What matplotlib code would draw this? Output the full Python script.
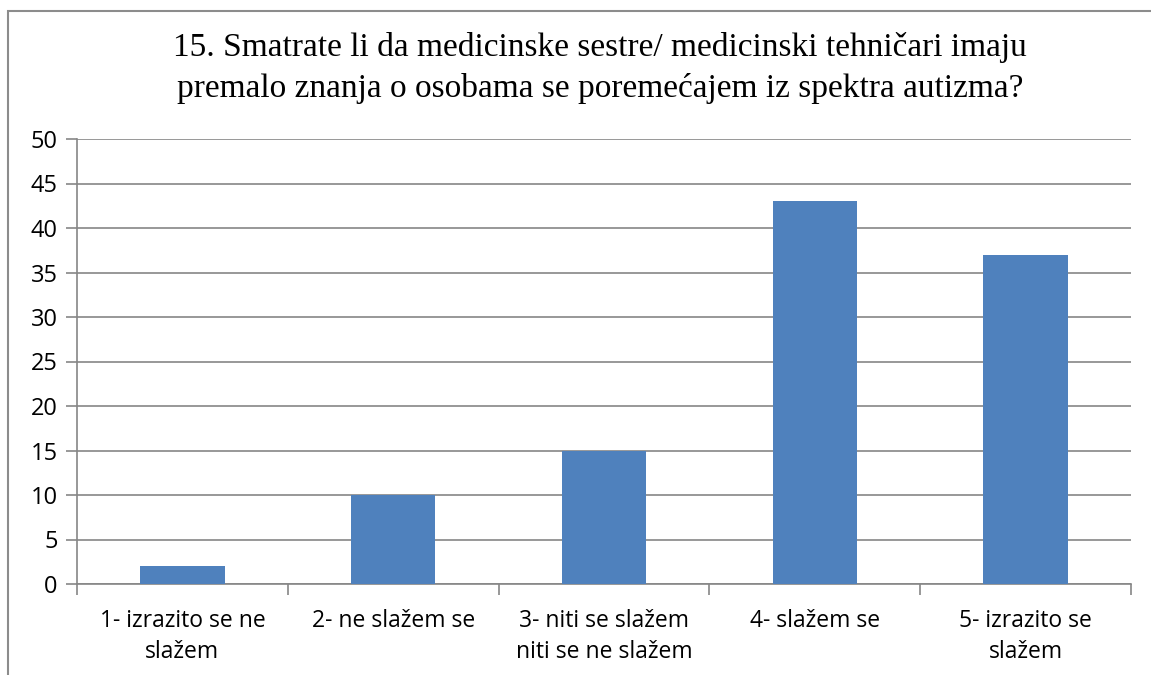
import matplotlib.pyplot as plt
from matplotlib.patches import Rectangle

categories = ['1- izrazito se ne\nslažem', '2- ne slažem se',
              '3- niti se slažem\nniti se ne slažem', '4- slažem se',
              '5- izrazito se\nslažem']
values = [2, 10, 15, 43, 37]
yticks = [0, 5, 10, 15, 20, 25, 30, 35, 40, 45, 50]
title = ('15. Smatrate li da medicinske sestre/ medicinski tehničari imaju\n'
         'premalo znanja o osobama se poremećajem iz spektra autizma?')

W, H = 1151, 675
fig = plt.figure(figsize=(W / 100, H / 100), dpi=100)
fig.patch.set_facecolor('white')

# outer chart frame (cut off on the right and bottom like the screenshot)
fig.patches.append(Rectangle((8 / W, -0.1), 1.2, 1 - 11 / H + 0.1,
                             transform=fig.transFigure, fill=False,
                             edgecolor='#8c8c8c', linewidth=1.5))

left, right, top, bottom = 77, 1131, 139, 584
ax = fig.add_axes([left / W, 1 - bottom / H, (right - left) / W, (bottom - top) / H])

grid_col = '#868686'
x = range(len(values))
ax.bar(x, values, width=0.4, color='#4f81bd', zorder=3)
ax.set_xlim(-0.5, len(values) - 0.5)
ax.set_ylim(0, 50)
ax.set_yticks(yticks)
ax.yaxis.grid(True, color=grid_col, linewidth=1.2, zorder=0)

ax.set_xticks([i - 0.5 for i in range(len(values) + 1)])
ax.set_xticklabels([])
ax.set_xticks(list(x), minor=True)
ax.set_xticklabels(categories, minor=True, fontsize=16.5, family='Open Sans',
                   linespacing=1.4)
ax.tick_params(axis='x', which='minor', length=0, pad=18)
ax.tick_params(axis='x', which='major', length=8, color=grid_col, width=1.2)
ax.tick_params(axis='y', length=8, color=grid_col, width=1.2, pad=6,
               labelsize=17)
for lab in ax.get_yticklabels():
    lab.set_family('Open Sans')

for s in ['top', 'right']:
    ax.spines[s].set_visible(False)
for s in ['left', 'bottom']:
    ax.spines[s].set_color(grid_col)
    ax.spines[s].set_linewidth(1.2)

fig.text(0.5215, 1 - 68 / H, title, ha='center', va='center', fontsize=24,
         family='Liberation Serif', linespacing=1.4)

fig.savefig('out.png', dpi=100)
